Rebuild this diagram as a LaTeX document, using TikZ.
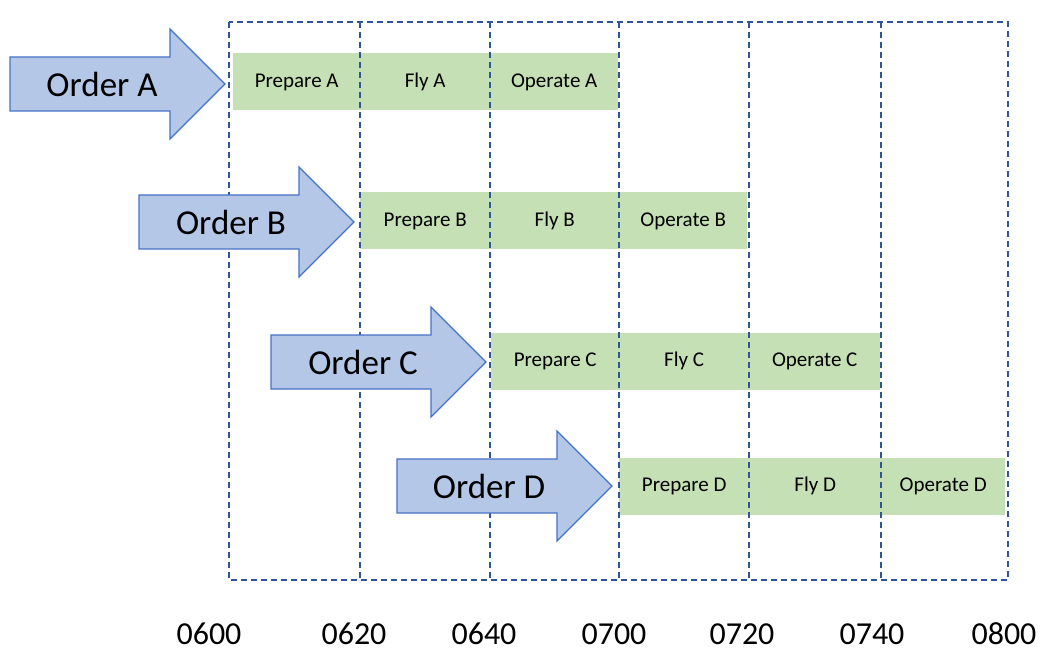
\documentclass[tikz,border=0pt]{standalone}
\usepackage{fontspec}
\setmainfont{Carlito}
\definecolor{arrowfill}{HTML}{B4C7E7}
\definecolor{arrowdraw}{HTML}{4472C4}
\definecolor{barfill}{HTML}{C5E0B4}
\definecolor{gridline}{HTML}{2F5597}
\tikzset{
  bar/.style={fill=barfill, draw=none, minimum height=57pt, inner sep=0pt, font=\fontsize{21}{24}\selectfont, anchor=west},
  orderarrow/.style={fill=arrowfill, draw=arrowdraw, line width=1.3pt, line join=miter},
  ordertext/.style={font=\fontsize{35}{40}\selectfont, inner sep=0pt},
  grid/.style={draw=gridline, line width=1.4pt, dash pattern=on 6pt off 4pt},
  timelabel/.style={font=\fontsize{32}{36}\selectfont, inner sep=0pt}
}
\newcommand{\orderarr}[4]{%
  \draw[orderarrow] (#2,#3-27) -- (#2+160,#3-27) -- (#2+160,#3-55) -- (#2+215,#3)
    -- (#2+160,#3+55) -- (#2+160,#3+27) -- (#2,#3+27) -- cycle;
  \node[ordertext] (#1) at (#2+92,#3) {#4};}
\newcommand{\seg}[5]{%
  \node[bar, minimum width={(#3-#2)*1pt}] (#1) at (#2,#4) {#5};}
\begin{document}
\begin{tikzpicture}[x=1pt,y=-1pt]
\useasboundingbox (0,0) rectangle (1047,655);
% bars
\seg{pa}{233}{360}{82}{Prepare A}
\seg{fa}{360}{490}{82}{Fly A}
\seg{oa}{490}{618}{82}{Operate A}
\seg{pb}{360}{490}{221}{Prepare B}
\seg{fb}{490}{619}{221}{Fly B}
\seg{ob}{619}{747}{221}{Operate B}
\seg{pc}{491}{619}{361}{Prepare C}
\seg{fc}{619}{749}{361}{Fly C}
\seg{oc}{749}{880}{361}{Operate C}
\seg{pd}{619}{749}{486}{Prepare D}
\seg{fd}{749}{881}{486}{Fly D}
\seg{od}{881}{1005}{486}{Operate D}
% grid
\coordinate (tl) at (229,22);
\coordinate (br) at (1008,580);
\draw[grid] (tl) rectangle (br);
\foreach \x in {360,490,619,749,881}{
  \draw[grid] (\x,22) -- (\x,580);
}
% arrows
\orderarr{ordA}{10}{84}{Order A}
\orderarr{ordB}{139}{222}{Order B}
\orderarr{ordC}{271}{362}{Order C}
\orderarr{ordD}{397}{486}{Order D}
% time labels
\node[timelabel] (t0600) at (209,634) {0600};
\node[timelabel] (t0620) at (354,634) {0620};
\node[timelabel] (t0640) at (484,634) {0640};
\node[timelabel] (t0700) at (614,634) {0700};
\node[timelabel] (t0720) at (742,634) {0720};
\node[timelabel] (t0740) at (872,634) {0740};
\node[timelabel] (t0800) at (1004,634) {0800};
\end{tikzpicture}
\end{document}
